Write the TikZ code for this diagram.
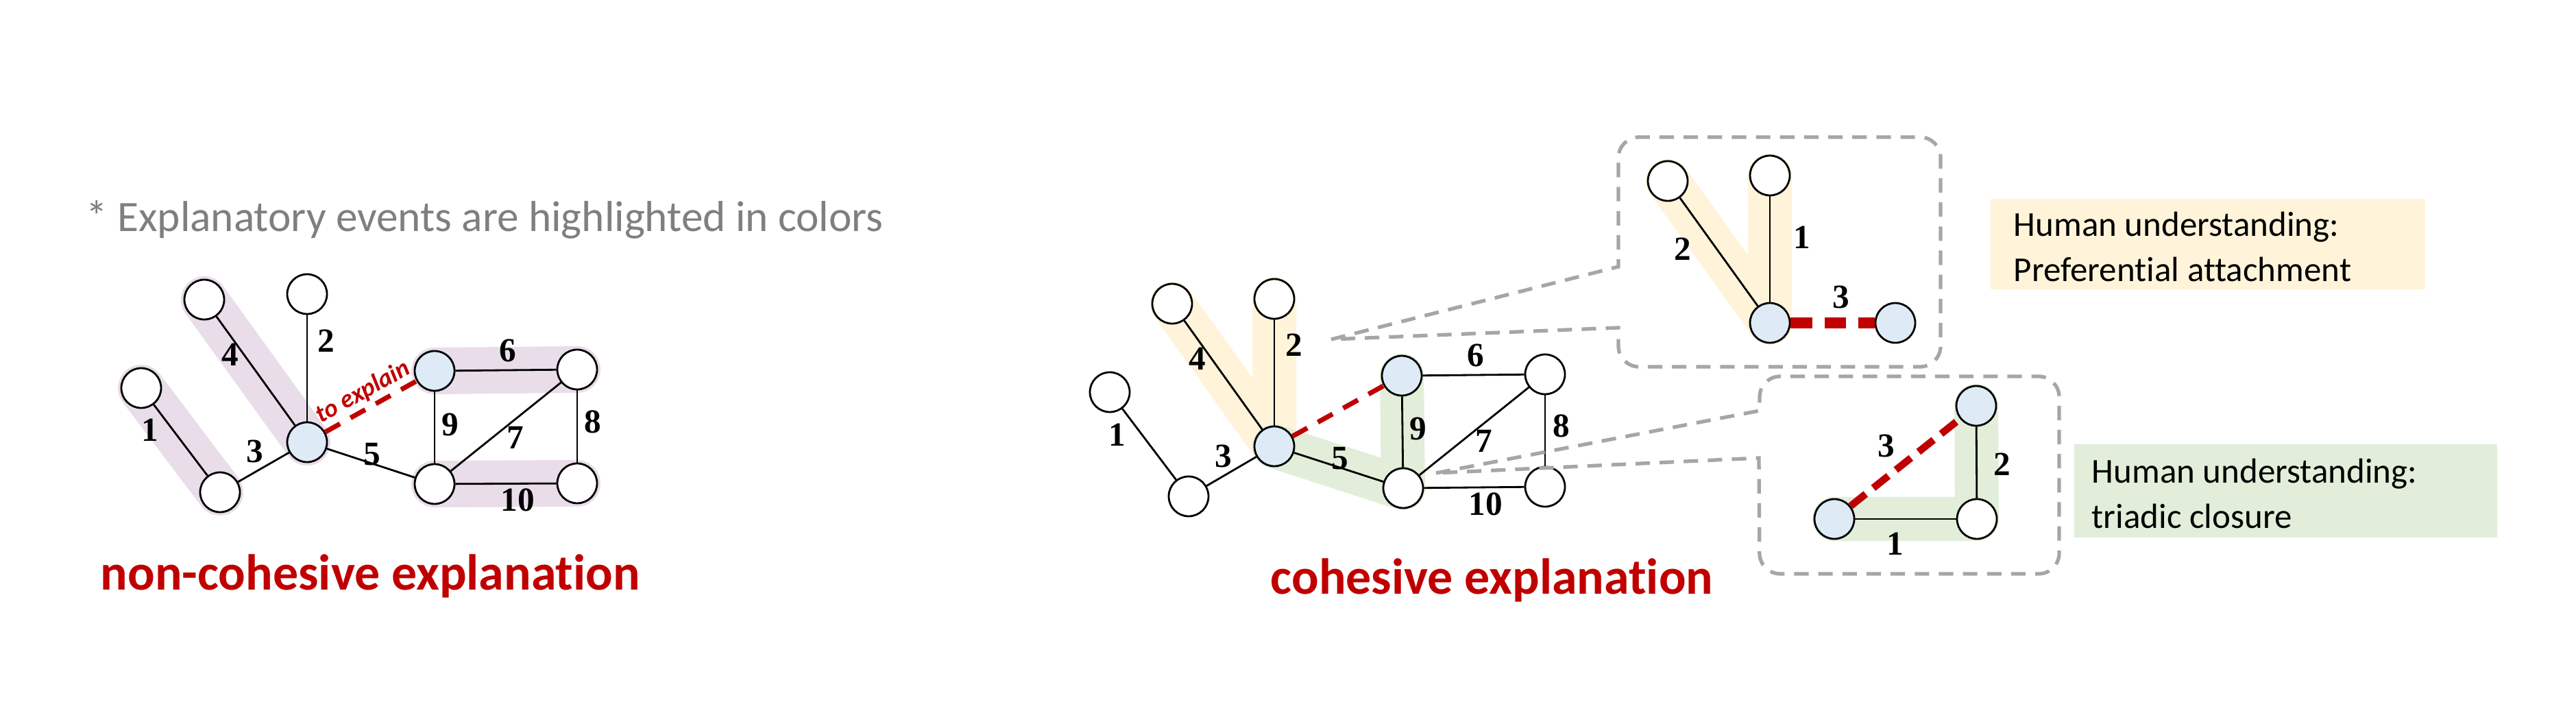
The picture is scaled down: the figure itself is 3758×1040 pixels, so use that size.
\documentclass[tikz,border=0pt]{standalone}
\usepackage{fontspec}
\setmainfont[Ligatures=NoCommon]{Carlito}
\newfontfamily\numf{Liberation Serif}
\pgfdeclarelayer{bg}
\pgfsetlayers{bg,main}
\definecolor{hlpurple}{HTML}{E9DDEA}
\definecolor{hlyellow}{HTML}{FFF4DA}
\definecolor{hlgreen}{HTML}{E2EED9}
\definecolor{nodeblue}{HTML}{DEEBF7}
\definecolor{darkred}{HTML}{C00000}
\definecolor{graytext}{HTML}{7F7F7F}
\definecolor{grayline}{HTML}{A6A6A6}
\tikzset{
  vtx/.style={circle,draw,line width=0.8pt,fill=white,minimum size=0.58cm,inner sep=0pt},
  bvtx/.style={vtx,fill=nodeblue},
  edge/.style={line width=0.8pt},
  lab/.style={font=\fontsize{14}{14}\selectfont\numf\bfseries,inner sep=0pt},
  hlP/.style={line width=0.68cm,line cap=round,line join=round,draw=hlpurple},
  hlY/.style={line width=0.64cm,line cap=round,line join=round,draw=hlyellow},
  hlG/.style={line width=0.64cm,line cap=round,line join=round,draw=hlgreen},
  redd/.style={draw=darkred,dashed,line width=2pt,dash pattern=on 7pt off 5pt},
  callout/.style={draw=grayline,line width=1.5pt,dash pattern=on 6pt off 4pt},
  title/.style={font=\fontsize{21}{21}\selectfont\bfseries,text=darkred,anchor=base west,inner sep=0pt},
  hutext/.style={font=\fontsize{14.5}{19}\selectfont,align=left,anchor=north west,inner sep=0pt}
}
\begin{document}
\begin{tikzpicture}[x=0.01cm,y=-0.01cm]
\useasboundingbox (0,0) rectangle (3758,1040);
% header
\node[anchor=base west,inner sep=0pt,text=graytext,font=\fontsize{18}{18}\selectfont] (hdr) at (125,338) {* Explanatory events are highlighted in colors};
% ===== left graph =====
\node[vtx] (A) at (206,566) {};
\node[vtx] (B) at (321,718) {};
\node[vtx] (C) at (298,437) {};
\node[vtx] (D) at (448,429) {};
\node[bvtx] (E) at (448,645) {};
\node[bvtx] (F) at (634,541) {};
\node[vtx] (G) at (842,539) {};
\node[vtx] (H) at (634,706) {};
\node[vtx] (I) at (842,705) {};
\begin{pgfonlayer}{bg}
\draw[hlP] (A.center) -- (B.center);
\draw[hlP] (C.center) -- (E.center);
\draw[hlP] (F.center) -- (G.center);
\draw[hlP] (H.center) -- (I.center);
\end{pgfonlayer}
\draw[edge] (A) -- (B);
\draw[edge] (D) -- (E);
\draw[edge] (B) -- (E);
\draw[edge] (C) -- (E);
\draw[edge] (E) -- (H);
\draw[edge] (F) -- (G);
\draw[edge] (H) -- (G);
\draw[edge] (G) -- (I);
\draw[edge] (F) -- (H);
\draw[edge] (H) -- (I);
\draw[redd] (E) -- (F);
\node[lab] (l1) at (219,627) {1};
\node[lab] (l4) at (336,517) {4};
\node[lab] (l2) at (476,497) {2};
\node[lab] (l3) at (372,658) {3};
\node[lab] (l5) at (543,663) {5};
\node[lab] (l9) at (657,619) {9};
\node[lab] (l7) at (752,638) {7};
\node[lab] (l8) at (865,615) {8};
\node[lab] (l6) at (741,511) {6};
\node[lab] (l10) at (755,729) {10};
\node[rotate=29,text=darkred,font=\fontsize{10.5}{10.5}\selectfont\bfseries\itshape,inner sep=0pt] (tx) at (530,572) {to explain};
\node[title] (t1) at (146,860) {non-cohesive explanation};
% ===== right graph =====
\node[vtx] (a) at (1619,572) {};
\node[vtx] (b) at (1734,724) {};
\node[vtx] (c) at (1710,443) {};
\node[vtx] (d) at (1859,436) {};
\node[bvtx] (e) at (1859,651) {};
\node[bvtx] (f) at (2045,548) {};
\node[vtx] (g) at (2254,546) {};
\node[vtx] (h) at (2047,712) {};
\node[vtx] (i) at (2254,710) {};
\begin{pgfonlayer}{bg}
\draw[hlY] (c.center) -- (e.center) -- (d.center);
\draw[hlG] (e.center) -- (h.center) -- (f.center);
\end{pgfonlayer}
\draw[edge] (a) -- (b);
\draw[edge] (b) -- (e);
\draw[edge] (c) -- (e);
\draw[edge] (d) -- (e);
\draw[edge] (e) -- (h);
\draw[edge] (f) -- (g);
\draw[edge] (h) -- (g);
\draw[edge] (g) -- (i);
\draw[edge] (f) -- (h);
\draw[edge] (h) -- (i);
\draw[redd] (e) -- (f);
\node[lab] (r1) at (1630,634) {1};
\node[lab] (r4) at (1747,523) {4};
\node[lab] (r2) at (1888,503) {2};
\node[lab] (r3) at (1785,665) {3};
\node[lab] (r5) at (1955,669) {5};
\node[lab] (r9) at (2069,625) {9};
\node[lab] (r7) at (2165,643) {7};
\node[lab] (r8) at (2278,621) {8};
\node[lab] (r6) at (2153,518) {6};
\node[lab] (r10) at (2167,735) {10};
\node[title] (t2) at (1853,866) {cohesive explanation};
% ===== top inset =====
\coordinate (tip1) at (1942,495);
\draw[callout] (tip1) -- (2361,389) [rounded corners=0.3cm] -- (2361,200) -- (2831,200) -- (2831,535) -- (2361,535) [sharp corners] -- (2361,478) -- (tip1);
\node[vtx] (p1) at (2433,264) {};
\node[vtx] (p2) at (2582,256) {};
\node[bvtx] (p3) at (2582,471) {};
\node[bvtx] (p4) at (2765,471) {};
\begin{pgfonlayer}{bg}
\draw[hlY] (p1.center) -- (p3.center) -- (p2.center);
\end{pgfonlayer}
\draw[edge] (p1) -- (p3);
\draw[edge] (p2) -- (p3);
\draw[draw=darkred,line width=4.5pt,dash pattern=on 9pt off 5pt] (p3) -- (p4);
\node[lab] (s2) at (2455,363) {2};
\node[lab] (s1) at (2629,346) {1};
\node[lab] (s3) at (2686,433) {3};
% ===== bottom inset =====
\coordinate (tip2) at (2095,690);
\draw[callout] (tip2) -- (2567,599) [rounded corners=0.3cm] -- (2567,549) -- (3004,549) -- (3004,837) -- (2567,837) [sharp corners] -- (2566,668) -- (tip2);
\node[bvtx] (q1) at (2676,757) {};
\node[vtx] (q2) at (2884,757) {};
\node[bvtx] (q3) at (2883,592) {};
\begin{pgfonlayer}{bg}
\draw[hlG] (q1.center) -- (q2.center) -- (q3.center);
\end{pgfonlayer}
\draw[edge] (q1) -- (q2);
\draw[edge] (q2) -- (q3);
\draw[draw=darkred,line width=3pt,dash pattern=on 8pt off 4pt] (q1) -- (q3);
\node[lab] (u3) at (2752,650) {3};
\node[lab] (u2) at (2921,677) {2};
\node[lab] (u1) at (2765,793) {1};
% ===== text boxes =====
\fill[hlyellow] (2904,290) rectangle (3538,422);
\node[hutext] (hu1) at (2937,308) {Human understanding:\\Preferential attachment};
\fill[hlgreen] (3026,648) rectangle (3643,784);
\node[hutext] (hu2) at (3051,668) {Human understanding:\\triadic closure};
\end{tikzpicture}
\end{document}
